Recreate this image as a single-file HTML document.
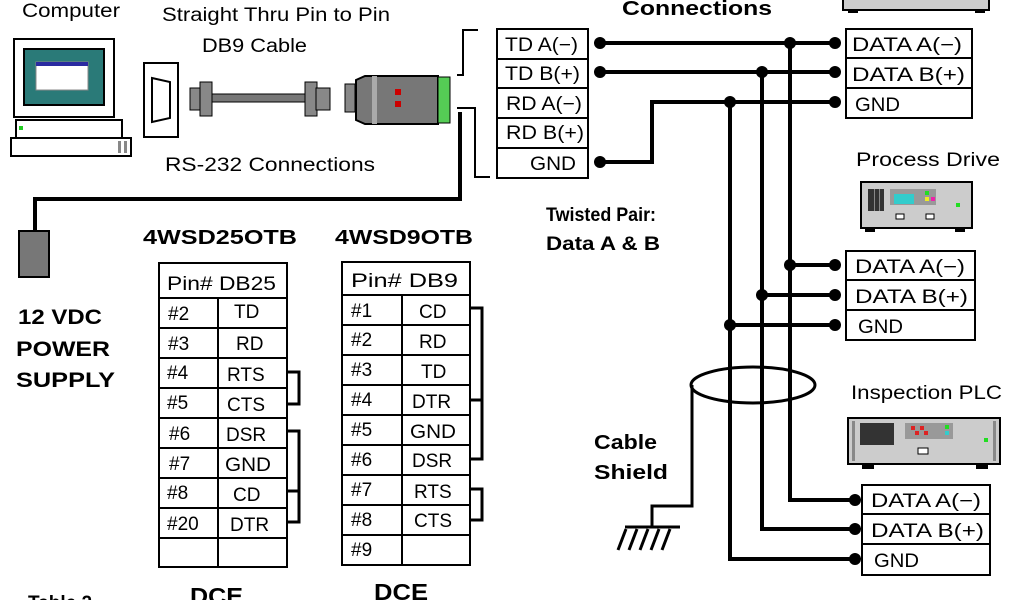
<!DOCTYPE html>
<html><head><meta charset="utf-8"><style>
html,body{margin:0;padding:0;background:#fff;width:1024px;height:600px;overflow:hidden}
svg{display:block}
text{font-family:"Liberation Sans",sans-serif;fill:#000}
.b{font-weight:bold}
</style></head><body>
<svg width="1024" height="600" viewBox="0 0 1024 600" xmlns="http://www.w3.org/2000/svg">
<g lengthAdjust="spacingAndGlyphs">
<text x="22" y="17" font-size="19" textLength="98" lengthAdjust="spacingAndGlyphs">Computer</text>
<text x="162" y="21" font-size="19" textLength="228" lengthAdjust="spacingAndGlyphs">Straight Thru Pin to Pin</text>
<text x="202" y="52" font-size="19" textLength="105" lengthAdjust="spacingAndGlyphs">DB9 Cable</text>
<text x="165" y="171" font-size="19" textLength="210" lengthAdjust="spacingAndGlyphs">RS-232 Connections</text>
<text x="143" y="244" font-size="20" class="b" textLength="154" lengthAdjust="spacingAndGlyphs">4WSD25OTB</text>
<text x="335" y="244" font-size="20" class="b" textLength="138" lengthAdjust="spacingAndGlyphs">4WSD9OTB</text>
<text x="18" y="324" font-size="21" class="b" textLength="84" lengthAdjust="spacingAndGlyphs">12 VDC</text>
<text x="16" y="356" font-size="21" class="b" textLength="94" lengthAdjust="spacingAndGlyphs">POWER</text>
<text x="16" y="387" font-size="21" class="b" textLength="99" lengthAdjust="spacingAndGlyphs">SUPPLY</text>
<text x="190" y="604" font-size="23" class="b" textLength="53" lengthAdjust="spacingAndGlyphs">DCE</text>
<text x="374" y="600" font-size="23" class="b" textLength="54" lengthAdjust="spacingAndGlyphs">DCE</text>
<text x="28" y="609" font-size="19" class="b">Table 2</text>
<text x="622" y="15" font-size="20" class="b" textLength="150" lengthAdjust="spacingAndGlyphs">Connections</text>
<text x="546" y="221" font-size="19" class="b" textLength="110" lengthAdjust="spacingAndGlyphs">Twisted Pair:</text>
<text x="546" y="250" font-size="19" class="b" textLength="114" lengthAdjust="spacingAndGlyphs">Data A &amp; B</text>
<text x="594" y="449" font-size="20" class="b" textLength="63" lengthAdjust="spacingAndGlyphs">Cable</text>
<text x="594" y="479" font-size="20" class="b" textLength="74" lengthAdjust="spacingAndGlyphs">Shield</text>
<text x="856" y="166" font-size="19" textLength="144" lengthAdjust="spacingAndGlyphs">Process Drive</text>
<text x="851" y="399" font-size="19" textLength="151" lengthAdjust="spacingAndGlyphs">Inspection PLC</text>
</g>

<!-- computer -->
<rect x="14" y="39" width="100" height="78" fill="#fff" stroke="#000" stroke-width="2"/>
<rect x="24" y="49" width="80" height="56" fill="#2a7a78" stroke="#000" stroke-width="2"/>
<rect x="36" y="62" width="52" height="28" fill="#fff" stroke="#888"/>
<rect x="36" y="62" width="52" height="4" fill="#2a2aa0"/>
<rect x="16" y="120" width="106" height="18" fill="#fff" stroke="#000" stroke-width="2"/>
<rect x="19" y="126" width="4" height="4" fill="#2c2"/>
<rect x="11" y="138" width="120" height="18" fill="#fff" stroke="#000" stroke-width="2"/>
<rect x="118" y="141" width="3" height="12" fill="#888"/><rect x="124" y="141" width="3" height="12" fill="#888"/>
<!-- DB9 port -->
<rect x="144" y="63" width="34" height="74" fill="#fff" stroke="#000" stroke-width="2"/>
<path d="M152 78 L170 82 L170 118 L152 122 Z" fill="#fff" stroke="#000" stroke-width="2"/>
<!-- cable -->
<rect x="190" y="88" width="14" height="22" fill="#888" stroke="#000"/>
<rect x="200" y="82" width="12" height="34" fill="#888" stroke="#000"/>
<rect x="212" y="94" width="96" height="8" fill="#777" stroke="#000"/>
<rect x="305" y="82" width="12" height="34" fill="#888" stroke="#000"/>
<rect x="316" y="88" width="14" height="22" fill="#888" stroke="#000"/>
<!-- converter -->
<rect x="345" y="84" width="10" height="28" fill="#888" stroke="#000"/>
<path d="M356 80 L365 76 L438 76 L438 124 L365 124 L356 120 Z" fill="#777" stroke="#000" stroke-width="2"/>
<rect x="372" y="76" width="5" height="48" fill="#aaa"/>
<rect x="395" y="89" width="6" height="6" fill="#c00"/><rect x="395" y="101" width="6" height="6" fill="#c00"/>
<rect x="438" y="77" width="12" height="46" fill="#5c5" stroke="#000"/>
<path d="M457 75 H463 V30 H478" fill="none" stroke="#000" stroke-width="2"/>
<path d="M457 108 H475 V177 H490" fill="none" stroke="#000" stroke-width="2"/>
<path d="M460 112 V199 H35 V232" fill="none" stroke="#000" stroke-width="4"/>
<rect x="19" y="231" width="30" height="46" fill="#777" stroke="#000" stroke-width="2"/>

<!-- DB25 table -->
<g stroke="#000" stroke-width="2" fill="none">
<rect x="159" y="263" width="128" height="304"/>
<line x1="159" y1="298" x2="287" y2="298"/>
<line x1="159" y1="328" x2="287" y2="328"/><line x1="159" y1="358" x2="287" y2="358"/>
<line x1="159" y1="388" x2="287" y2="388"/><line x1="159" y1="418" x2="287" y2="418"/>
<line x1="159" y1="448" x2="287" y2="448"/><line x1="159" y1="478" x2="287" y2="478"/>
<line x1="159" y1="508" x2="287" y2="508"/><line x1="159" y1="538" x2="287" y2="538"/>
<line x1="218" y1="298" x2="218" y2="567"/>
<path d="M287 372 H299 V404 H287" stroke-width="3"/>
<path d="M287 431 H299 V522 H287 M287 491 H299" stroke-width="3"/>
</g>
<g font-size="19">
<text x="167" y="290" textLength="109" lengthAdjust="spacingAndGlyphs">Pin#  DB25</text>
<text x="168" y="320">#2</text><text x="234" y="318">TD</text>
<text x="168" y="350">#3</text><text x="236" y="350">RD</text>
<text x="167" y="379">#4</text><text x="227" y="381">RTS</text>
<text x="167" y="409">#5</text><text x="227" y="411">CTS</text>
<text x="169" y="440">#6</text><text x="226" y="441">DSR</text>
<text x="169" y="470">#7</text><text x="225" y="471" textLength="46" lengthAdjust="spacingAndGlyphs">GND</text>
<text x="167" y="499">#8</text><text x="233" y="501">CD</text>
<text x="167" y="530">#20</text><text x="230" y="531">DTR</text>
</g>
<!-- DB9 table -->
<g stroke="#000" stroke-width="2" fill="none">
<rect x="342" y="262" width="128" height="303"/>
<line x1="342" y1="295" x2="470" y2="295"/>
<line x1="342" y1="325" x2="470" y2="325"/><line x1="342" y1="355" x2="470" y2="355"/>
<line x1="342" y1="385" x2="470" y2="385"/><line x1="342" y1="415" x2="470" y2="415"/>
<line x1="342" y1="445" x2="470" y2="445"/><line x1="342" y1="475" x2="470" y2="475"/>
<line x1="342" y1="505" x2="470" y2="505"/><line x1="342" y1="535" x2="470" y2="535"/>
<line x1="402" y1="295" x2="402" y2="565"/>
<path d="M470 308 H482 V459 H470 M470 400 H482" stroke-width="3"/>
<path d="M470 489 H482 V520 H470" stroke-width="3"/>
</g>
<g font-size="19">
<text x="351" y="287" textLength="107" lengthAdjust="spacingAndGlyphs">Pin#  DB9</text>
<text x="351" y="317">#1</text><text x="419" y="318">CD</text>
<text x="351" y="346">#2</text><text x="419" y="348">RD</text>
<text x="351" y="376">#3</text><text x="421" y="378">TD</text>
<text x="351" y="406">#4</text><text x="412" y="408">DTR</text>
<text x="351" y="436">#5</text><text x="410" y="438" textLength="46" lengthAdjust="spacingAndGlyphs">GND</text>
<text x="351" y="466">#6</text><text x="412" y="467">DSR</text>
<text x="351" y="496">#7</text><text x="414" y="498">RTS</text>
<text x="351" y="526">#8</text><text x="414" y="527">CTS</text>
<text x="351" y="556">#9</text>
</g>

<!-- converter terminal -->
<g stroke="#000" stroke-width="2" fill="#fff">
<rect x="497" y="29" width="91" height="149"/>
<line x1="497" y1="59" x2="588" y2="59"/><line x1="497" y1="88" x2="588" y2="88"/>
<line x1="497" y1="118" x2="588" y2="118"/><line x1="497" y1="148" x2="588" y2="148"/>
</g>
<g font-size="19">
<text x="505" y="51" textLength="73" lengthAdjust="spacingAndGlyphs">TD A(−)</text><text x="505" y="80" textLength="75" lengthAdjust="spacingAndGlyphs">TD B(+)</text>
<text x="506" y="110" textLength="76" lengthAdjust="spacingAndGlyphs">RD A(−)</text><text x="506" y="139" textLength="78" lengthAdjust="spacingAndGlyphs">RD B(+)</text>
<text x="530" y="170" textLength="46" lengthAdjust="spacingAndGlyphs">GND</text>
</g>

<!-- device 1 top -->
<rect x="843" y="-10" width="146" height="20" fill="#ccc" stroke="#000" stroke-width="2"/>
<rect x="848" y="10" width="10" height="3" fill="#000"/><rect x="975" y="10" width="10" height="3" fill="#000"/>
<g stroke="#000" stroke-width="2" fill="#fff">
<rect x="846" y="29" width="126" height="89"/>
<line x1="846" y1="58" x2="972" y2="58"/><line x1="846" y1="88" x2="972" y2="88"/>
</g>
<g font-size="19">
<text x="852" y="51" textLength="110" lengthAdjust="spacingAndGlyphs">DATA A(−)</text><text x="852" y="81" textLength="113" lengthAdjust="spacingAndGlyphs">DATA B(+)</text><text x="855" y="111" textLength="45" lengthAdjust="spacingAndGlyphs">GND</text>
</g>
<!-- process drive icon -->
<rect x="861" y="182" width="111" height="46" fill="#ccc" stroke="#000" stroke-width="2"/>
<rect x="868" y="189" width="16" height="22" fill="#333"/>
<rect x="874" y="189" width="1" height="22" fill="#888"/><rect x="879" y="189" width="1" height="22" fill="#888"/>
<rect x="890" y="189" width="46" height="16" fill="#999"/>
<rect x="894" y="194" width="20" height="10" fill="#3cc"/>
<rect x="925" y="191" width="4" height="4" fill="#2d2"/><rect x="925" y="197" width="4" height="4" fill="#ee2"/><rect x="931" y="197" width="4" height="4" fill="#e2a"/>
<rect x="896" y="214" width="8" height="5" fill="#fff" stroke="#000"/><rect x="926" y="214" width="8" height="5" fill="#fff" stroke="#000"/>
<rect x="956" y="203" width="4" height="4" fill="#2d2"/>
<rect x="865" y="228" width="10" height="4" fill="#000"/><rect x="955" y="228" width="10" height="4" fill="#000"/>
<g stroke="#000" stroke-width="2" fill="#fff">
<rect x="846" y="251" width="129" height="89"/>
<line x1="846" y1="280" x2="975" y2="280"/><line x1="846" y1="310" x2="975" y2="310"/>
</g>
<g font-size="19">
<text x="855" y="273" textLength="110" lengthAdjust="spacingAndGlyphs">DATA A(−)</text><text x="855" y="303" textLength="113" lengthAdjust="spacingAndGlyphs">DATA B(+)</text><text x="858" y="333" textLength="45" lengthAdjust="spacingAndGlyphs">GND</text>
</g>
<!-- PLC icon -->
<rect x="848" y="418" width="152" height="46" fill="#ccc" stroke="#000" stroke-width="2"/>
<rect x="852" y="421" width="3" height="40" fill="#888"/><rect x="993" y="421" width="3" height="40" fill="#888"/>
<rect x="860" y="423" width="34" height="22" fill="#333"/>
<rect x="905" y="423" width="48" height="16" fill="#999"/>
<rect x="911" y="426" width="4" height="4" fill="#d22"/><rect x="920" y="426" width="4" height="4" fill="#d22"/><rect x="915" y="431" width="4" height="4" fill="#d22"/><rect x="924" y="431" width="4" height="4" fill="#d22"/>
<rect x="945" y="425" width="4" height="4" fill="#2d2"/><rect x="945" y="431" width="4" height="4" fill="#3cc"/>
<rect x="918" y="448" width="10" height="6" fill="#fff" stroke="#000"/>
<rect x="984" y="438" width="4" height="4" fill="#2d2"/>
<rect x="862" y="464" width="12" height="5" fill="#000"/><rect x="976" y="464" width="12" height="5" fill="#000"/>
<g stroke="#000" stroke-width="2" fill="#fff">
<rect x="862" y="485" width="128" height="90"/>
<line x1="862" y1="514" x2="990" y2="514"/><line x1="862" y1="544" x2="990" y2="544"/>
</g>
<g font-size="19">
<text x="871" y="507" textLength="110" lengthAdjust="spacingAndGlyphs">DATA A(−)</text><text x="871" y="537" textLength="113" lengthAdjust="spacingAndGlyphs">DATA B(+)</text><text x="874" y="567" textLength="45" lengthAdjust="spacingAndGlyphs">GND</text>
</g>

<!-- wires -->
<g stroke="#000" stroke-width="4" fill="none">
<line x1="600" y1="43" x2="835" y2="43"/>
<line x1="600" y1="72" x2="835" y2="72"/>
<path d="M600 162 H652 V102 H835"/>
<path d="M790 43 V500 H855"/>
<path d="M762 72 V529 H855"/>
<path d="M730 102 V559 H855"/>
<line x1="790" y1="265" x2="835" y2="265"/>
<line x1="762" y1="295" x2="835" y2="295"/>
<line x1="730" y1="325" x2="835" y2="325"/>
</g>
<g fill="#000">
<circle cx="600" cy="43" r="6"/><circle cx="600" cy="72" r="6"/><circle cx="600" cy="162" r="6"/>
<circle cx="790" cy="43" r="6"/><circle cx="762" cy="72" r="6"/><circle cx="730" cy="102" r="6"/>
<circle cx="835" cy="43" r="6"/><circle cx="835" cy="72" r="6"/><circle cx="835" cy="102" r="6"/>
<circle cx="790" cy="265" r="6"/><circle cx="762" cy="295" r="6"/><circle cx="730" cy="325" r="6"/>
<circle cx="835" cy="265" r="6"/><circle cx="835" cy="295" r="6"/><circle cx="835" cy="325" r="6"/>
<circle cx="855" cy="500" r="6"/><circle cx="855" cy="529" r="6"/><circle cx="855" cy="559" r="6"/>
</g>
<ellipse cx="753" cy="385" rx="62" ry="18" fill="none" stroke="#000" stroke-width="3"/>
<path d="M692 385 V506 H652 V527" fill="none" stroke="#000" stroke-width="3"/>
<line x1="625" y1="527" x2="680" y2="527" stroke="#000" stroke-width="3"/>
<g stroke="#000" stroke-width="3">
<line x1="626" y1="529" x2="618" y2="550"/><line x1="637" y1="529" x2="629" y2="550"/>
<line x1="648" y1="529" x2="640" y2="550"/><line x1="659" y1="529" x2="651" y2="550"/>
<line x1="670" y1="529" x2="662" y2="550"/>
</g>
</svg>
</body></html>
